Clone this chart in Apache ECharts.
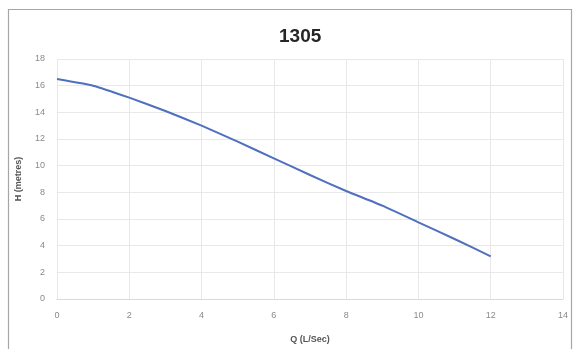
<!DOCTYPE html>
<html>
<head>
<meta charset="utf-8">
<script src="https://cdn.jsdelivr.net/npm/echarts@6/dist/echarts.min.js"></script>
<style>
html,body{margin:0;padding:0;background:#fff;}
#chart{width:576px;height:349px;}
</style>
</head>
<body>
<div id="chart"></div>
<script>
var titleText = '1305';
var xName = 'Q (L/Sec)';
var yName = 'H (metres)';
var flowQ = [0, 1, 2, 3, 4, 5, 6, 7, 8, 9, 10, 11, 12];
var headH = [16.5, 16.0, 15.1, 14.1, 13.0, 11.8, 10.55, 9.3, 8.1, 7.0, 5.75, 4.5, 3.2];
var xTicks = [0, 14, 2];
var yTicks = [0, 18, 2];

var points = flowQ.map(function (q, i) { return [q, headH[i]]; });

var chart = echarts.init(document.getElementById('chart'), null, {renderer: 'canvas'});
chart.setOption({
  backgroundColor: '#ffffff',
  animation: false,
  graphic: [{
    type: 'rect',
    shape: {x: 8.5, y: 9.5, width: 563, height: 360},
    style: {fill: 'none', stroke: '#a6a6a6', lineWidth: 1.2},
    silent: true, z: -1
  }],
  title: {
    text: titleText,
    left: 274, top: 22,
    textStyle: {fontFamily: 'Liberation Sans, Arial, sans-serif', fontSize: 19, fontWeight: 'bold', color: '#262626'}
  },
  grid: {left: 57, right: 13, top: 59, bottom: 42, containLabel: false},
  xAxis: {
    type: 'value', min: xTicks[0], max: xTicks[1], interval: xTicks[2],
    name: xName, nameLocation: 'middle', nameGap: 36,
    nameTextStyle: {fontFamily: 'Liberation Sans, Arial, sans-serif', fontSize: 9, fontWeight: 'bold', color: '#555'},
    axisLine: {show: true, lineStyle: {color: '#d9d9d9', width: 1}},
    axisTick: {show: false},
    axisLabel: {fontFamily: 'Liberation Sans, Arial, sans-serif', fontSize: 9, color: '#8a8a8a', margin: 12},
    splitLine: {show: true, lineStyle: {color: '#e8e8e8', width: 1}}
  },
  yAxis: {
    type: 'value', min: yTicks[0], max: yTicks[1], interval: yTicks[2],
    name: yName, nameLocation: 'middle', nameGap: 34, nameRotate: 90,
    nameTextStyle: {fontFamily: 'Liberation Sans, Arial, sans-serif', fontSize: 9, fontWeight: 'bold', color: '#555'},
    axisLine: {show: false},
    axisTick: {show: false},
    axisLabel: {fontFamily: 'Liberation Sans, Arial, sans-serif', fontSize: 9, color: '#8a8a8a', margin: 12},
    splitLine: {show: true, lineStyle: {color: '#e8e8e8', width: 1}}
  },
  series: [{
    type: 'line',
    data: points,
    smooth: 0.15,
    showSymbol: false,
    lineStyle: {color: '#4f6fbf', width: 2}
  }]
});
</script>
</body>
</html>
